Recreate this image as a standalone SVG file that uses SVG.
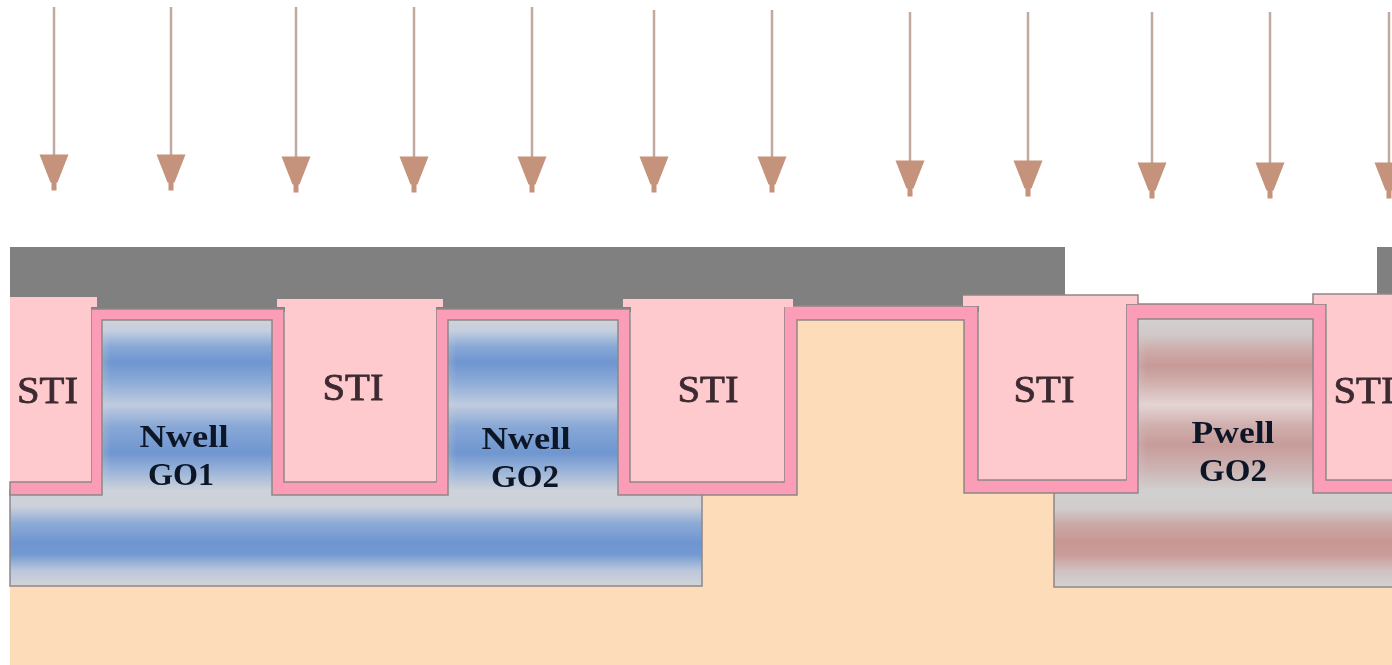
<svg xmlns="http://www.w3.org/2000/svg" width="1392" height="665" viewBox="0 0 1392 665">
<style>
.sti{fill:#ffcace}
.edge{fill:none;stroke:#8f8788;stroke-width:1.5}
.arrow{stroke:#bfaa9d;stroke-width:2.5;marker-end:url(#head)}
text{font-family:"Liberation Serif","Times New Roman",serif;text-anchor:middle;filter:url(#soft)}
.t{font-size:38px;fill:#3b2a30;stroke:#3b2a30;stroke-width:0.8}
.w{font-size:31px;font-weight:bold;fill:#101828}
</style>
<defs>
<filter id="soft" x="-10%" y="-10%" width="120%" height="120%"><feGaussianBlur stdDeviation="0.5"/></filter>
<marker id="head" markerUnits="userSpaceOnUse" markerWidth="30" markerHeight="38" refX="14.5" refY="0.5" orient="0" overflow="visible">
<path d="M0,0H29L18,28H17V36H12V28H11Z" fill="#c5927b"/>
</marker>
<linearGradient id="nw" gradientUnits="userSpaceOnUse" x1="0" y1="320" x2="0" y2="586">
<stop offset="0" stop-color="#cfd2d9"/><stop offset="0.04" stop-color="#c5cfdf"/><stop offset="0.1" stop-color="#88a8d6"/><stop offset="0.158" stop-color="#6f96d0"/><stop offset="0.225" stop-color="#88a8d6"/><stop offset="0.32" stop-color="#c0cbdf"/><stop offset="0.4" stop-color="#88a8d6"/><stop offset="0.5" stop-color="#6f96d0"/><stop offset="0.564" stop-color="#98b2d8"/><stop offset="0.64" stop-color="#ced2da"/><stop offset="0.7" stop-color="#cdd1da"/><stop offset="0.763" stop-color="#8eabd6"/><stop offset="0.835" stop-color="#6f96d0"/><stop offset="0.88" stop-color="#7299d1"/><stop offset="0.94" stop-color="#b9c6dc"/><stop offset="1" stop-color="#d3d4da"/>
</linearGradient>
<linearGradient id="pw" gradientUnits="userSpaceOnUse" x1="0" y1="319" x2="0" y2="587">
<stop offset="0" stop-color="#d2d0d0"/><stop offset="0.06" stop-color="#d1c8c8"/><stop offset="0.12" stop-color="#cdaaa8"/><stop offset="0.175" stop-color="#c79a98"/><stop offset="0.23" stop-color="#cfacaa"/><stop offset="0.32" stop-color="#e4d4d4"/><stop offset="0.4" stop-color="#cfaeac"/><stop offset="0.47" stop-color="#c79c9a"/><stop offset="0.56" stop-color="#ccb4b3"/><stop offset="0.64" stop-color="#d1d0d0"/><stop offset="0.71" stop-color="#d0cccc"/><stop offset="0.765" stop-color="#cba9a7"/><stop offset="0.83" stop-color="#c79794"/><stop offset="0.88" stop-color="#c99c9a"/><stop offset="0.94" stop-color="#d0c2c1"/><stop offset="1" stop-color="#d3d2d2"/>
</linearGradient>
<linearGradient id="fadeN"><stop offset="0" stop-color="#cfd2d9" stop-opacity="0.25"/><stop offset="0.05" stop-color="#cfd2d9" stop-opacity="0"/></linearGradient>
<linearGradient id="fadeP"><stop offset="0" stop-color="#d2d0d0" stop-opacity="0.25"/><stop offset="0.05" stop-color="#d2d0d0" stop-opacity="0"/></linearGradient>
</defs>
<rect width="1392" height="665" fill="#fff"/>
<rect id="substrate" x="10" y="320" width="1382" height="345" fill="#fddcb9"/>
<g id="deep-nwell"><rect class="edge" x="10" y="490" width="692" height="96" style="fill:url(#nw)"/></g>
<g id="deep-pwell"><rect class="edge" x="1054" y="490" width="340" height="97" style="fill:url(#pw)"/></g>
<g id="nwell-go1"><rect x="102" y="320" width="170" height="176" fill="url(#nw)"/><rect x="102" y="320" width="170" height="170" fill="url(#fadeN)"/><text class="w" x="184" y="447" textLength="89" lengthAdjust="spacingAndGlyphs">Nwell</text><text class="w" x="181" y="485" textLength="66" lengthAdjust="spacingAndGlyphs">GO1</text></g>
<g id="nwell-go2"><rect x="448" y="320" width="170" height="176" fill="url(#nw)"/><rect x="448" y="320" width="170" height="170" fill="url(#fadeN)"/><text class="w" x="526" y="449" textLength="89" lengthAdjust="spacingAndGlyphs">Nwell</text><text class="w" x="525" y="487" textLength="68" lengthAdjust="spacingAndGlyphs">GO2</text></g>
<g id="pwell-go2"><rect x="1138" y="319" width="175" height="176" fill="url(#pw)"/><rect x="1138" y="319" width="175" height="170" fill="url(#fadeP)"/><text class="w" x="1233" y="443" textLength="83" lengthAdjust="spacingAndGlyphs">Pwell</text><text class="w" x="1233" y="481" textLength="68" lengthAdjust="spacingAndGlyphs">GO2</text></g>
<g id="mask">
<rect x="10" y="247" width="1055" height="65" fill="#808080"/>
<rect x="1377" y="247" width="15" height="50" fill="#808080"/>
</g>
<g id="liner"><path d="M10,495H102V320H272V495H448V320H618V495H797V320H964V493H1138V319H1313V493H1394V480H1326V304H1126V480H978V306H784V482H630V309H436V482H284V309H91V482H10Z" fill="#fb9db6" stroke="#8f8788" stroke-width="1.500"/></g>
<g id="sti-1"><path class="sti" d="M10,297H97V307H91V481H10Z"/><text class="t" x="47.500" y="403" textLength="61" lengthAdjust="spacingAndGlyphs">STI</text></g>
<g id="sti-2"><path class="sti" d="M277,299H443V307H436V481H285V307H277Z"/><text class="t" x="353" y="400" textLength="61" lengthAdjust="spacingAndGlyphs">STI</text></g>
<g id="sti-3"><path class="sti" d="M623,299H793V307H784V481H631V307H623Z"/><text class="t" x="708" y="402" textLength="61" lengthAdjust="spacingAndGlyphs">STI</text></g>
<g id="sti-4"><path class="sti" d="M963,295H1138V304H1126V479H979V306H963Z"/><path class="edge" d="M963,295H1138V304"/><text class="t" x="1044" y="402" textLength="61" lengthAdjust="spacingAndGlyphs">STI</text></g>
<g id="sti-5"><path class="sti" d="M1313,294H1392V479H1327V304H1313Z"/><path class="edge" d="M1313,304V294H1392"/><text class="t" x="1364" y="403" textLength="61" lengthAdjust="spacingAndGlyphs">STI</text></g>
<g id="connectors">
<line class="arrow" x1="54" y1="7" x2="54" y2="155"/>
<line class="arrow" x1="171" y1="7" x2="171" y2="155"/>
<line class="arrow" x1="296" y1="7" x2="296" y2="157"/>
<line class="arrow" x1="414" y1="7" x2="414" y2="157"/>
<line class="arrow" x1="532" y1="7" x2="532" y2="157"/>
<line class="arrow" x1="654" y1="10" x2="654" y2="157"/>
<line class="arrow" x1="772" y1="10" x2="772" y2="157"/>
<line class="arrow" x1="910" y1="12" x2="910" y2="161"/>
<line class="arrow" x1="1028" y1="12" x2="1028" y2="161"/>
<line class="arrow" x1="1152" y1="12" x2="1152" y2="163"/>
<line class="arrow" x1="1270" y1="12" x2="1270" y2="163"/>
<line class="arrow" x1="1389" y1="12" x2="1389" y2="163"/>
</g>
</svg>
